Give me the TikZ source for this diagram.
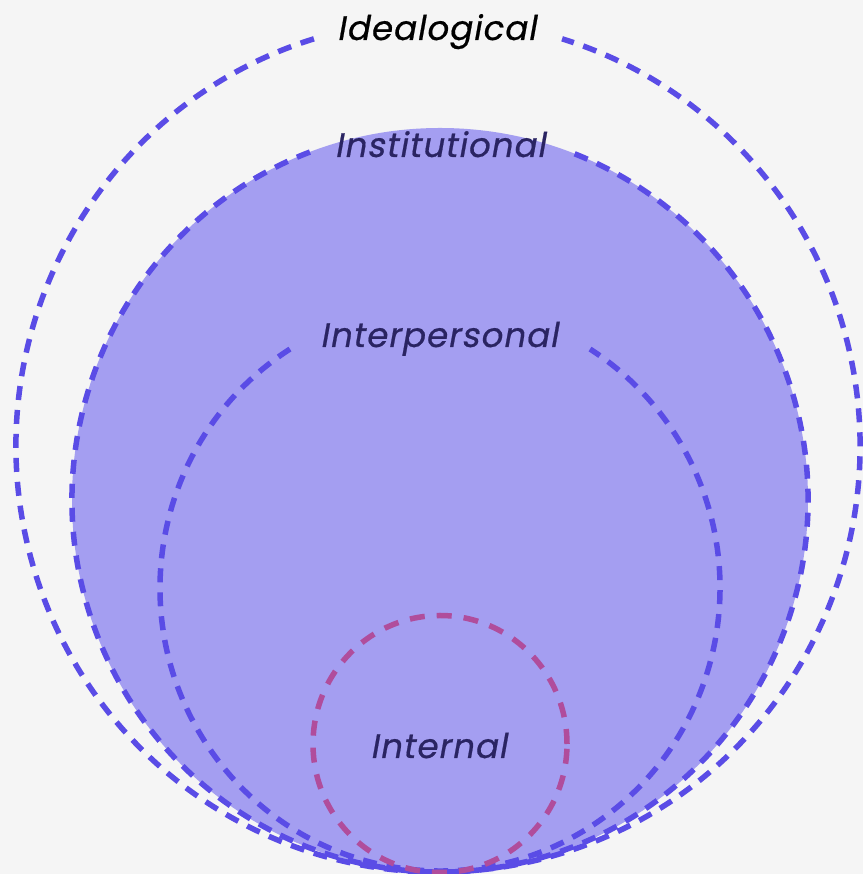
\documentclass[tikz,border=0pt]{standalone}
\usepackage{fontspec}
\newfontfamily\ringfont[FakeSlant=0.18,LetterSpace=3,FakeBold=0.6]{Poppins}
\definecolor{bgcol}{HTML}{F5F5F5}
\definecolor{ringfill}{HTML}{A49EF1}
\definecolor{ringline}{HTML}{5A4CE6}
\definecolor{coreline}{HTML}{B04D9C}
\definecolor{labelcol}{HTML}{2A2462}
\begin{document}
\begin{tikzpicture}[x=1pt, y=1pt,
    ring/.style={draw=ringline, line width=5.5pt, dash pattern=on 14pt off 10pt},
    core/.style={draw=coreline, line width=5.5pt, dash pattern=on 15pt off 12pt},
    ringlabel/.style={anchor=base, inner sep=0pt, text=labelcol, font=\ringfont\fontsize{34}{40}\selectfont}]
    \fill[bgcol] (0,0) rectangle (863,874);
    \useasboundingbox (0,0) rectangle (863,874);
    % centres of the rings
    \coordinate (idealc) at (438,428);
    \coordinate (instc) at (440,374);
    \coordinate (interc) at (440,286);
    \coordinate (corec) at (440,130);
    % filled institutional ring
    \fill[ringfill] (instc) ellipse [x radius=368, y radius=372];
    % dashed rings, open where the labels sit
    \draw[ring] (idealc) ++(107.1:422 and 426) arc[start angle=107.1, end angle=432.9, x radius=422, y radius=426];
    \draw[ring] (instc) ++(110.7:368 and 372) arc[start angle=110.7, end angle=429.3, x radius=368, y radius=372];
    \draw[ring] (interc) ++(122.4:280 and 283) arc[start angle=122.4, end angle=417.6, x radius=280, y radius=283];
    \draw[core] (corec) ellipse [x radius=127, y radius=128.5];
    % labels
    \node[ringlabel, text=black] (ideal) at (436.5,834) {Idealogical};
    \node[ringlabel] (inst) at (440,717) {Institutional};
    \node[ringlabel] (inter) at (439,527) {Interpersonal};
    \node[ringlabel] (core) at (438.5,116) {Internal};
\end{tikzpicture}
\end{document}
